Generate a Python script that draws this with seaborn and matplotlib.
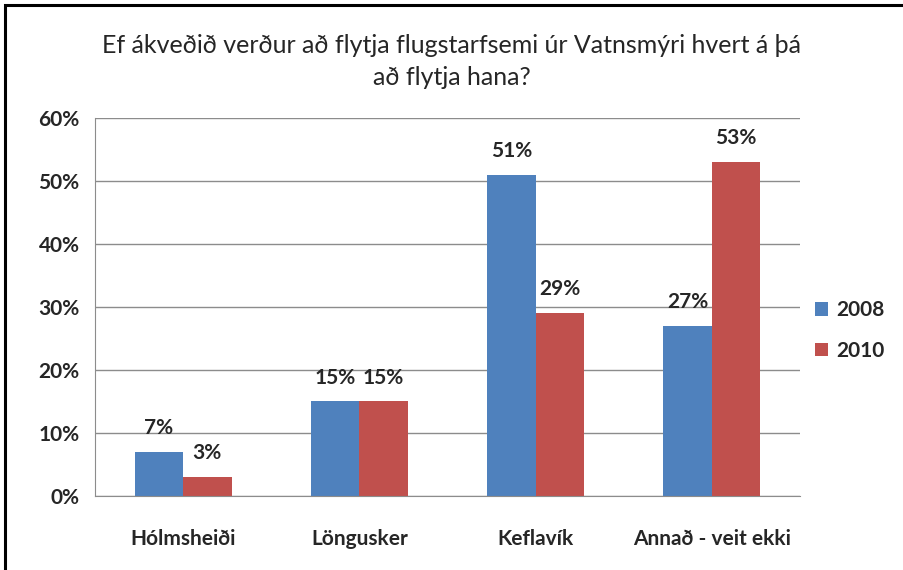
import numpy as np
import pandas as pd
import seaborn as sns
import matplotlib.pyplot as plt
from matplotlib.patches import Rectangle
from matplotlib.ticker import PercentFormatter, FixedLocator

# gögn
stadir = ["Hólmsheiði", "Löngusker", "Keflavík", "Annað - veit ekki"]
ar = ["2008", "2010"]
gildi_2008 = [7, 15, 51, 27]
gildi_2010 = [3, 15, 29, 53]
litir = ["#4F81BD", "#C0504D"]

df = pd.DataFrame({
    "stadur": stadir * 2,
    "ar": [ar[0]] * 4 + [ar[1]] * 4,
    "gildi": gildi_2008 + gildi_2010,
})

sns.set_style("white")
plt.rcParams["font.family"] = ["Lato", "DejaVu Sans"]

fig = plt.figure(figsize=(9.04, 5.70), dpi=100)
ax = fig.add_axes([0.105, 0.13, 0.78, 0.663])

sns.barplot(data=df, x="stadur", y="gildi", hue="ar", palette=litir,
            width=0.55, saturation=1, linewidth=0, ax=ax,
            order=stadir, hue_order=ar)

for c in ax.containers:
    ax.bar_label(c, labels=[f"{v:.0f}%" for v in c.datavalues],
                 padding=10, fontsize=15, fontweight="bold")

ax.set_ylim(0, 60)
ax.set_xlim(-0.5, 3.5)
ax.yaxis.set_major_formatter(PercentFormatter(decimals=0))
ax.set_yticks(range(0, 61, 10))
ax.grid(axis="y", color="#8c8c8c", linewidth=1)
ax.set_axisbelow(True)
for s in ["top", "right"]:
    ax.spines[s].set_visible(False)
ax.spines["left"].set_color("#8c8c8c")
ax.spines["bottom"].set_color("#8c8c8c")

ax.set_xlabel("")
ax.set_ylabel("")
ax.tick_params(axis="x", which="major", length=0, pad=24, labelsize=15)
ax.xaxis.set_minor_locator(FixedLocator([-0.5, 0.5, 1.5, 2.5, 3.5]))
ax.tick_params(axis="x", which="minor", length=6, color="#8c8c8c", direction="out")
ax.tick_params(axis="y", length=5, color="#8c8c8c", direction="out", labelsize=15, pad=6)
for t in ax.get_xticklabels() + ax.get_yticklabels():
    t.set_fontweight("bold")

ax.legend(loc="center left", bbox_to_anchor=(0.995, 0.437), frameon=False,
          prop={"weight": "bold", "size": 15}, handlelength=0.6,
          handleheight=0.6, handletextpad=0.4, labelspacing=1.0)

fig.suptitle("Ef ákveðið verður að flytja flugstarfsemi úr Vatnsmýri hvert á þá\nað flytja hana?",
             y=0.94, va="top", fontsize=18, linespacing=1.45)

fig.patches.append(Rectangle((0.006, -0.1), 1.2, 1.091, transform=fig.transFigure,
                             fill=False, edgecolor="black", linewidth=2.2))

plt.savefig("out.png", dpi=100)
